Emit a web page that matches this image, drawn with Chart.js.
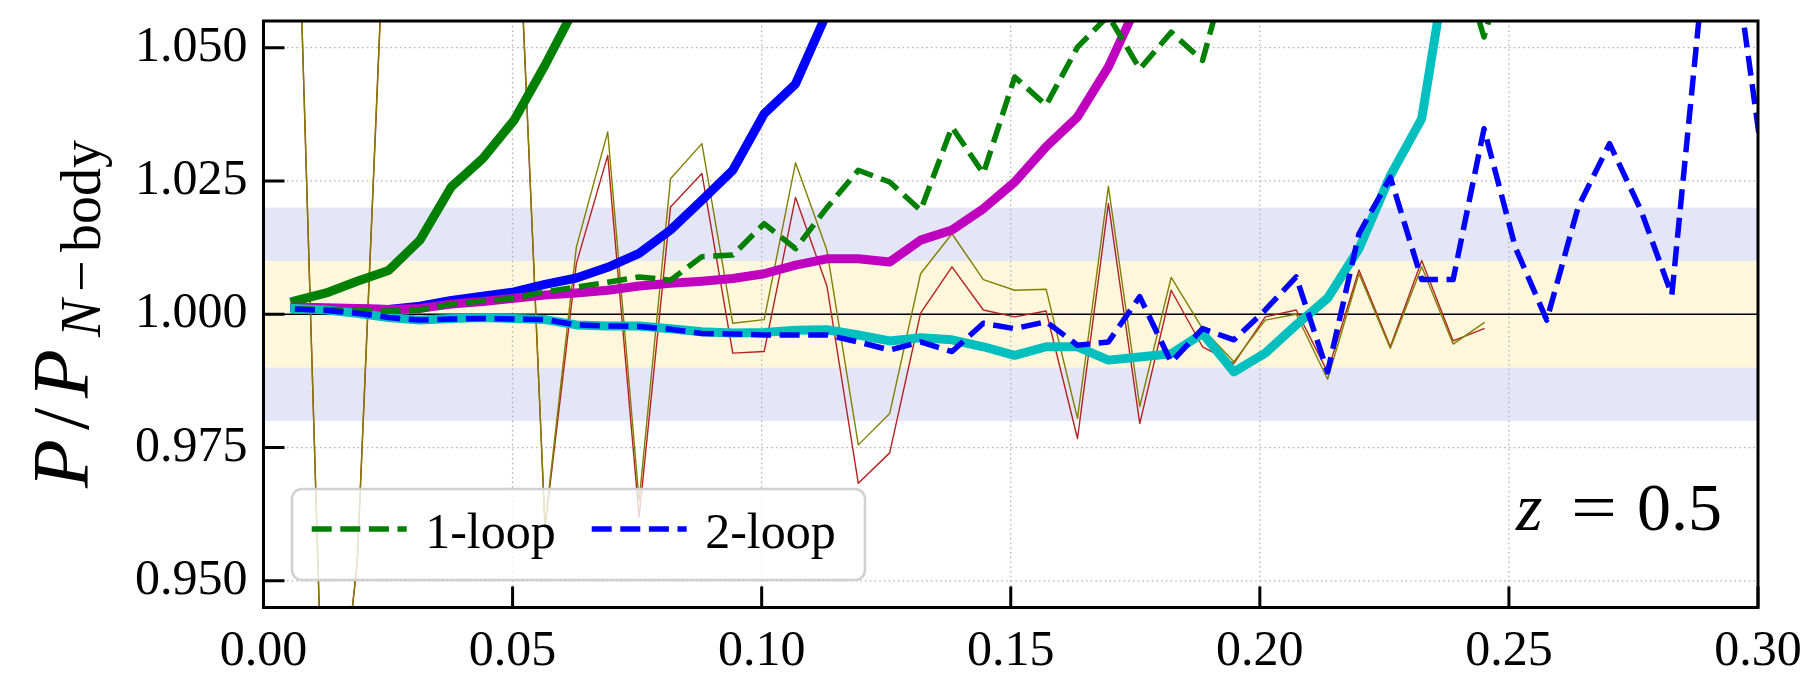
<!DOCTYPE html>
<html>
<head>
<meta charset="utf-8">
<script src="https://cdn.jsdelivr.net/npm/chart.js@4.4.0/dist/chart.umd.min.js"></script>
<style>
  html, body { margin: 0; padding: 0; background: #fff; }
  #wrap { width: 1804px; height: 675px; }
</style>
</head>
<body>
<div id="wrap"><canvas id="chart" width="1804" height="675"></canvas></div>
<script>
// wavenumbers k (h/Mpc)
const k = [0.0063, 0.0126, 0.0188, 0.0251, 0.0314, 0.0377, 0.0440, 0.0503, 0.0565, 0.0628,
  0.0691, 0.0754, 0.0817, 0.0880, 0.0942, 0.1005, 0.1068, 0.1131, 0.1194, 0.1257,
  0.1319, 0.1382, 0.1445, 0.1508, 0.1571, 0.1634, 0.1696, 0.1759, 0.1822, 0.1885,
  0.1948, 0.2011, 0.2073, 0.2136, 0.2199, 0.2262, 0.2325, 0.2388, 0.2450, 0.2513,
  0.2576, 0.2639, 0.2702, 0.2765, 0.2827, 0.2890, 0.2953, 0.3016];

const greenSolid = [1.0025, 1.0040, 1.0062, 1.0082, 1.0139, 1.0239, 1.0292, 1.0364, 1.0467, 1.0580, 1.0720];
const blueSolid = [1.0012, 1.0011, 1.0010, 1.0009, 1.0015, 1.0026, 1.0034, 1.0042, 1.0056, 1.0068,
  1.0088, 1.0114, 1.0158, 1.0214, 1.0270, 1.0376, 1.0432, 1.0565, 1.0750];
const magentaSolid = [1.0013, 1.0012, 1.0011, 1.0009, 1.0011, 1.0019, 1.0024, 1.0030, 1.0036, 1.0040,
  1.0045, 1.0053, 1.0058, 1.0062, 1.0067, 1.0076, 1.0092, 1.0104, 1.0104, 1.0098,
  1.0139, 1.0158, 1.0198, 1.0248, 1.0314, 1.0370, 1.0464, 1.0591, 1.0750];
const cyanSolid = [1.0011, 1.0008, 1.0002, 0.9994, 0.9989, 0.9992, 0.9994, 0.9992, 0.9990, 0.9980,
  0.9978, 0.9978, 0.9973, 0.9967, 0.9965, 0.9966, 0.9970, 0.9971, 0.9961, 0.9950,
  0.9956, 0.9952, 0.9939, 0.9923, 0.9939, 0.9939, 0.9914, 0.9920, 0.9926, 0.9964,
  0.9892, 0.9927, 0.9980, 1.0030, 1.0123, 1.0260, 1.0367, 1.0730];
const oneLoop = [1.0010, 1.0009, 1.0007, 1.0006, 1.0008, 1.0019, 1.0025, 1.0030, 1.0042, 1.0051,
  1.0060, 1.0070, 1.0064, 1.0108, 1.0111, 1.0170, 1.0123, 1.0200, 1.0270, 1.0248,
  1.0195, 1.0351, 1.0264, 1.0445, 1.0392, 1.0501, 1.0560, 1.0460, 1.0529, 1.0476,
  1.0690, 1.0740, 1.0680, 1.0790, 1.0750, 1.0830, 1.0780, 1.0710, 1.0520, 1.0720];
const twoLoop = [1.0010, 1.0007, 1.0002, 0.9994, 0.9989, 0.9991, 0.9992, 0.9991, 0.9990, 0.9980,
  0.9978, 0.9977, 0.9972, 0.9964, 0.9963, 0.9961, 0.9961, 0.9961, 0.9948, 0.9933,
  0.9948, 0.9930, 0.9983, 0.9973, 0.9986, 0.9942, 0.9948, 1.0033, 0.9910, 0.9973,
  0.9952, 1.0008, 1.0070, 0.9892, 1.0151, 1.0257, 1.0065, 1.0065, 1.0348, 1.0125,
  0.9989, 1.0201, 1.0320, 1.0195, 1.0036, 1.0635, 1.0671, 1.0242];
const simOlive = [1.0996, 0.8998, 0.9534, 1.0930, 1.1050, 1.1120, 1.1040, 1.0955, 0.9605, 1.0126,
  1.0342, 0.9650, 1.0254, 1.0320, 0.9983, 0.9990, 1.0284, 1.0120, 0.9755, 0.9814,
  1.0076, 1.0151, 1.0065, 1.0045, 1.0047, 0.9805, 1.0240, 0.9827, 1.0069, 0.9973,
  0.9911, 0.9989, 1.0000, 0.9878, 1.0076, 0.9936, 1.0089, 0.9944, 0.9984];
const simRed = [1.0990, 0.9010, 0.9530, 1.0920, 1.1040, 1.1100, 1.1020, 1.0950, 0.9600, 1.0095,
  1.0298, 0.9620, 1.0201, 1.0264, 0.9927, 0.9930, 1.0219, 1.0053, 0.9683, 0.9740,
  1.0002, 1.0089, 1.0008, 0.9995, 1.0006, 0.9767, 1.0208, 0.9795, 1.0045, 0.9939,
  0.9908, 0.9995, 1.0008, 0.9892, 1.0083, 0.9939, 1.0101, 0.9950, 0.9973];
const unityX = [0, 0.3];
const unityY = [1, 1];

const xTicks = [0.00, 0.05, 0.10, 0.15, 0.20, 0.25, 0.30];
const yTicks = [0.950, 0.975, 1.000, 1.025, 1.050];
const bandOuter = [0.98, 1.02];
const bandInner = [0.99, 1.01];
const legendLabels = ['1-loop', '2-loop'];

const SERIF = '"Liberation Serif", "DejaVu Serif", serif';
const DASH = [20, 8.6];

function series(label, ys, color, width, dash) {
  return {
    label: label,
    data: ys.map((y, j) => ({ x: k[j], y: y })),
    borderColor: color,
    borderWidth: width,
    borderDash: dash || [],
    borderCapStyle: dash ? 'butt' : 'square',
    borderJoinStyle: 'round',
    pointRadius: 0,
    tension: 0,
    fill: false,
    clip: 0
  };
}

const unity = {
  label: 'unity',
  data: unityX.map((x, j) => ({ x: x, y: unityY[j] })),
  borderColor: '#000', borderWidth: 1.5, pointRadius: 0, fill: false, clip: 0
};

// first dataset is drawn on top
const datasets = [
  series('2-loop', twoLoop, '#0000ff', 5.5, DASH),
  series('1-loop', oneLoop, '#008000', 5.5, DASH),
  series('cyan', cyanSolid, '#00bfbf', 9),
  series('magenta', magentaSolid, '#bf00bf', 9),
  series('blue', blueSolid, '#0000ff', 9),
  series('green', greenSolid, '#008000', 9),
  series('sim olive', simOlive, '#808000', 1.4),
  series('sim red', simRed, '#b22222', 1.4),
  unity
];

const deco = {
  id: 'deco',
  beforeDatasetsDraw(chart) {
    const { ctx, chartArea: a, scales: { x, y } } = chart;
    ctx.save();
    // error bands
    ctx.fillStyle = '#e5e5f8';
    let t = y.getPixelForValue(bandOuter[1]), b = y.getPixelForValue(bandOuter[0]);
    ctx.fillRect(a.left, t, a.right - a.left, b - t);
    ctx.fillStyle = '#fff7dc';
    t = y.getPixelForValue(bandInner[1]); b = y.getPixelForValue(bandInner[0]);
    ctx.fillRect(a.left, t, a.right - a.left, b - t);
    // dotted grid
    ctx.strokeStyle = '#b0b0b0';
    ctx.lineWidth = 1.3;
    ctx.setLineDash([1.5, 3.2]);
    ctx.beginPath();
    xTicks.forEach(v => {
      const px = x.getPixelForValue(v);
      ctx.moveTo(px, a.top); ctx.lineTo(px, a.bottom);
    });
    yTicks.forEach(v => {
      const py = y.getPixelForValue(v);
      ctx.moveTo(a.left, py); ctx.lineTo(a.right, py);
    });
    ctx.stroke();
    ctx.restore();
  },
  afterDatasetsDraw(chart) {
    const { ctx, chartArea: a, scales: { x, y } } = chart;
    ctx.save();

    // legend
    const lx = 292, ly = 489, lw = 573, lh = 91;
    ctx.beginPath();
    ctx.roundRect(lx, ly, lw, lh, 10);
    ctx.fillStyle = 'rgba(255,255,255,0.8)';
    ctx.fill();
    ctx.lineWidth = 2.5;
    ctx.strokeStyle = '#d0d0d0';
    ctx.stroke();
    const starts = [311.7, 591.7];
    legendLabels.forEach((name, i) => {
      const ds = chart.data.datasets.find(d => d.label === name);
      ctx.beginPath();
      ctx.setLineDash(ds.borderDash);
      ctx.lineCap = 'butt';
      ctx.strokeStyle = ds.borderColor;
      ctx.lineWidth = ds.borderWidth;
      ctx.moveTo(starts[i], 529);
      ctx.lineTo(starts[i] + 95, 529);
      ctx.stroke();
      ctx.setLineDash([]);
      ctx.fillStyle = '#000';
      ctx.font = '50px ' + SERIF;
      ctx.textBaseline = 'alphabetic';
      ctx.textAlign = 'left';
      ctx.fillText(name, starts[i] + 113.5, 548);
    });

    // frame
    ctx.setLineDash([]);
    ctx.strokeStyle = '#000';
    ctx.lineWidth = 3;
    ctx.strokeRect(a.left, a.top, a.right - a.left, a.bottom - a.top);
    // inward ticks
    ctx.beginPath();
    yTicks.forEach(v => {
      const py = y.getPixelForValue(v);
      ctx.moveTo(a.left, py); ctx.lineTo(a.left + 21, py);
    });
    xTicks.forEach(v => {
      const px = x.getPixelForValue(v);
      ctx.moveTo(px, a.bottom); ctx.lineTo(px, a.bottom - 21);
    });
    ctx.stroke();

    // redshift note
    ctx.fillStyle = '#000';
    ctx.textBaseline = 'alphabetic';
    ctx.font = 'italic 68px ' + SERIF;
    ctx.textAlign = 'left';
    ctx.fillText('z', 1516, 530);
    ctx.font = '68px ' + SERIF;
    const eqW = ctx.measureText('=').width;
    ctx.save();
    ctx.translate(1571, 530);
    ctx.scale(46 / eqW, 1);
    ctx.fillText('=', 0, 0);
    ctx.restore();
    ctx.textAlign = 'right';
    ctx.fillText('0.5', 1722, 530);

    // y axis label, rotated
    ctx.save();
    ctx.translate(88, 488);
    ctx.rotate(-Math.PI / 2);
    ctx.textAlign = 'left';
    ctx.font = 'italic 80px ' + SERIF;
    ctx.fillText('P', 0, 0);
    ctx.font = '80px ' + SERIF;
    ctx.fillText('/', 58, 0);
    ctx.font = 'italic 80px ' + SERIF;
    ctx.fillText('P', 90, 0);
    ctx.font = 'italic 56px ' + SERIF;
    ctx.fillText('N', 151, 12);
    ctx.font = '56px ' + SERIF;
    ctx.fillText('\u2212', 196, 12);
    ctx.fillText('body', 236, 12);
    ctx.restore();

    ctx.restore();
  }
};

new Chart(document.getElementById('chart'), {
  type: 'line',
  data: { datasets: datasets },
  options: {
    responsive: false,
    devicePixelRatio: 1,
    animation: false,
    layout: { padding: { top: 21, right: 46, left: 0, bottom: 0 } },
    plugins: { legend: { display: false }, tooltip: { enabled: false } },
    scales: {
      x: {
        type: 'linear',
        min: 0,
        max: 0.3,
        grid: { display: false, drawTicks: false },
        border: { display: false },
        afterBuildTicks: s => { s.ticks = xTicks.map(v => ({ value: v })); },
        afterFit: s => { s.height = 67.5; s.paddingLeft = 0; s.paddingRight = 0; },
        ticks: {
          color: '#000',
          font: { family: SERIF, size: 50 },
          padding: 14,
          maxRotation: 0,
          autoSkip: false,
          callback: v => v.toFixed(2)
        }
      },
      y: {
        type: 'linear',
        min: 0.945,
        max: 1.055,
        grid: { display: false, drawTicks: false },
        border: { display: false },
        afterBuildTicks: s => { s.ticks = yTicks.map(v => ({ value: v })); },
        afterFit: s => { s.width = 263.5; s.paddingTop = 0; s.paddingBottom = 0; },
        ticks: {
          color: '#000',
          font: { family: SERIF, size: 50 },
          padding: 16,
          autoSkip: false,
          callback: v => v.toFixed(3)
        }
      }
    }
  },
  plugins: [deco]
});
</script>
</body>
</html>
